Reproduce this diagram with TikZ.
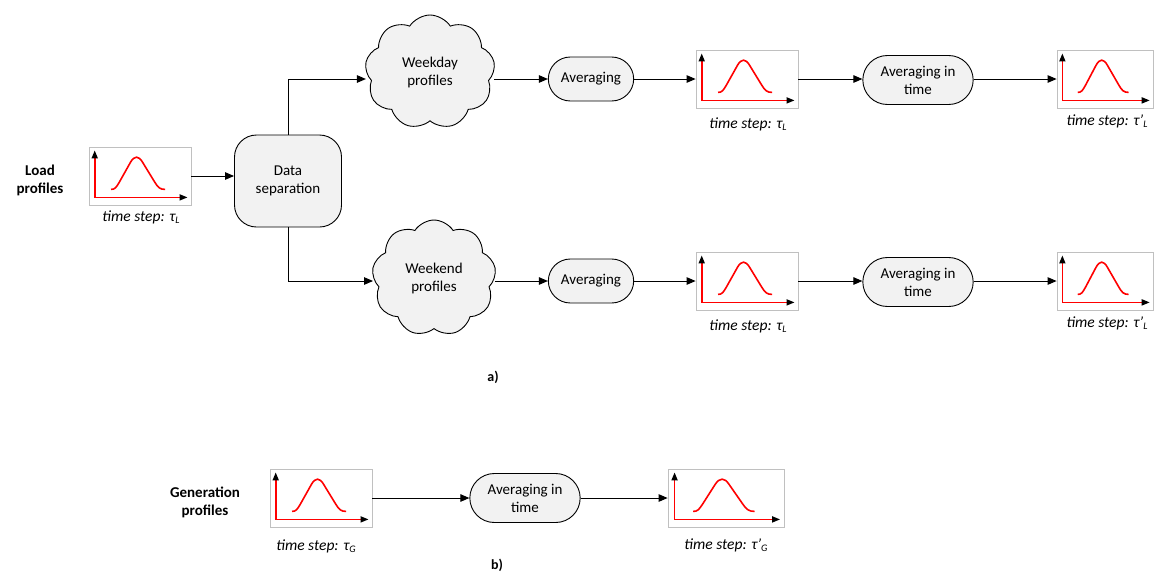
\documentclass[tikz,border=0pt]{standalone}
\usepackage{fontspec}
\setmainfont{Carlito}
\usetikzlibrary{arrows.meta,shapes.symbols,shapes.misc}
\definecolor{boxfill}{HTML}{F2F2F2}
\definecolor{chartborder}{HTML}{C0C0C0}
\tikzset{
  proc/.style={draw=black, line width=0.9pt, fill=boxfill, rounded rectangle, align=center, font=\fontsize{15}{18}\selectfont},
  sepbox/.style={draw=black, line width=0.9pt, fill=boxfill, rounded corners=22pt, align=center, minimum width=107pt, minimum height=92pt, font=\fontsize{15}{18}\selectfont},
  cloudbox/.style={draw=black, line width=0.9pt, fill=boxfill, cloud, cloud puffs=9, cloud puff arc=115, aspect=1.1, align=center, inner sep=0pt, font=\fontsize{15}{18}\selectfont},
  chart/.style={draw=chartborder, line width=0.8pt, fill=white, minimum height=58pt, inner sep=0pt},
  conn/.style={line width=1pt, -{Triangle[length=9pt,width=7.5pt]}},
  lbl/.style={font=\fontsize{15.5}{18}\selectfont\itshape},
  head/.style={font=\fontsize{15}{18}\selectfont\bfseries, align=center},
}
\newcommand\tauL[1]{τ#1\raisebox{-2pt}{\fontsize{10}{11}\selectfont\itshape L}}
\newcommand\tauG[1]{τ#1\raisebox{-2pt}{\fontsize{10}{11}\selectfont\itshape G}}
\newcommand\chartat[4]{%
  \node[chart, minimum width=#4pt] (#1) at (#2,#3) {};
  \begin{scope}[shift={(#1.south west)}, x=1pt, y=1pt, xscale=#4/100]
    \draw[red, line width=1.6pt] (22,16) .. controls (26,16) and (27,18) .. (30,23) -- (41,43) .. controls (45,50) and (49,50) .. (53,43) -- (65,23) .. controls (68,18) and (70,16) .. (75,16);
    \draw[red, line width=1.6pt, {Triangle[length=8pt,width=6pt,color=black]}-{Triangle[length=8pt,width=6pt,color=black]}] (6,55) -- (6,8) -- (97,8);
  \end{scope}
}
\begin{document}
\begin{tikzpicture}[x=1pt,y=-1pt]
\useasboundingbox (0,0) rectangle (1156,574);
% ---- a) ----
\node[head] (load) at (40,180) {Load\\profiles};
\chartat{c1}{140}{176}{102}
\node[lbl] (l1) at (141,217) {time step: \tauL{}};
\node[sepbox] (sep) at (288,181) {Data\\separation};

\node[cloudbox, minimum width=130pt, minimum height=114pt] (wd) at (430,72) {Weekday\\profiles};
\node[proc, minimum width=92pt, minimum height=44pt] (av1) at (591,79) {Averaging};
\chartat{c2}{747}{79}{102}
\node[lbl] (l2) at (748,124) {time step: \tauL{}};
\node[proc, minimum width=117pt, minimum height=49pt] (avt1) at (918,80) {Averaging in\\time};
\chartat{c3}{1105}{79}{96}
\node[lbl] (l3) at (1107,121) {time step: \tauL{'}};

\node[cloudbox, minimum width=124pt, minimum height=116pt] (we) at (434,278) {Weekend\\profiles};
\node[proc, minimum width=92pt, minimum height=44pt] (av2) at (591,281) {Averaging};
\chartat{c4}{747}{281}{102}
\node[lbl] (l4) at (748,326) {time step: \tauL{}};
\node[proc, minimum width=117pt, minimum height=49pt] (avt2) at (918,282) {Averaging in\\time};
\chartat{c5}{1105}{281}{96}
\node[lbl] (l5) at (1107,323) {time step: \tauL{'}};

\node[font=\fontsize{14}{16}\selectfont\bfseries] (a) at (493,377) {a)};

\draw[conn] (c1.east) -- (c1.east -| sep.west);
\coordinate (tw) at (288,79);
\coordinate (bw) at (288,281);
\draw[conn] (sep.north) -- (tw) -- (wd.west |- tw);
\draw[conn] (sep.south) -- (bw) -- (we.west |- bw);
\draw[conn] (wd.east |- av1.west) -- (av1.west);
\draw[conn] (av1.east) -- (c2.west);
\draw[conn] (c2.east) -- (c2.east -| avt1.west);
\draw[conn] (avt1.east |- c3.west) -- (c3.west);
\draw[conn] (we.east |- av2.west) -- (av2.west);
\draw[conn] (av2.east) -- (c4.west);
\draw[conn] (c4.east) -- (c4.east -| avt2.west);
\draw[conn] (avt2.east |- c5.west) -- (c5.west);

% ---- b) ----
\node[head] (gen) at (205,502) {Generation\\profiles};
\chartat{c6}{321}{498}{102}
\node[lbl] (l6) at (316,546) {time step: \tauG{}};
\node[proc, minimum width=117pt, minimum height=49pt] (avt3) at (525,498) {Averaging in\\time};
\chartat{c7}{726}{498}{116}
\node[lbl] (l7) at (726,545) {time step: \tauG{'}};
\node[font=\fontsize{14}{16}\selectfont\bfseries] (b) at (497,565) {b)};

\draw[conn] (c6.east) -- (avt3.west);
\draw[conn] (avt3.east) -- (c7.west);
\end{tikzpicture}
\end{document}
